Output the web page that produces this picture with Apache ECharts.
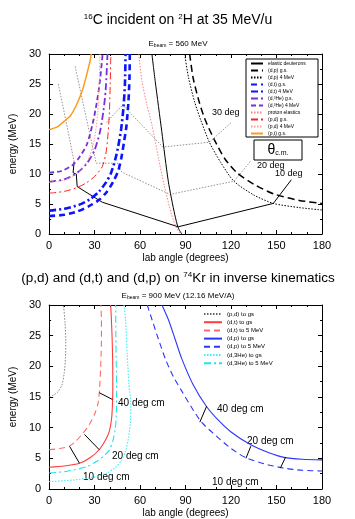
<!DOCTYPE html>
<html>
<head>
<meta charset="utf-8">
<script src="https://cdn.jsdelivr.net/npm/echarts@6/dist/echarts.min.js"></script>
<style>
html,body{margin:0;padding:0;background:#fff;}
#chart{width:355px;height:519px;}
</style>
</head>
<body>
<div id="chart"></div>
<script>
var FONT = 'Liberation Sans, Arial, sans-serif';

// ---------- top panel: 16C + 2H, 35 MeV/u ----------  [lab angle (deg), energy (MeV)]
var elasticDeut  = [[67.8,30],[70,25.4],[74.3,17.1],[78.6,8.8],[82.9,3.2],[85.2,1.0],[87.5,0]];
var dpGs         = [[92.7,30],[95,26],[99,22],[103,19],[109,15.7],[116,12.5],[124,10.2],[135,8.3],[148,6.7],[165,5.6],[180,5.1]];
var dp4          = [[89.4,30],[92,26],[96,22],[100,19],[105.7,15.3],[113,12],[121.9,8.8],[135,6.5],[147.9,5.1],[165,4.4],[180,4.0]];
var dtGs         = [[0,3.0],[10,3.2],[18,3.7],[26,4.6],[33,5.7],[38,7],[42,8.6],[45.5,10.5],[47.5,12.5],[49.5,15.5],[51,18],[52.3,22],[53,26],[53.2,30]];
var dt4          = [[0,3.9],[10,4.2],[20,4.9],[27,5.8],[33,7.1],[37.5,8.6],[40.7,10.1],[43.5,12.3],[45.5,14.5],[47.5,17.5],[49,21],[50,25],[50.4,30]];
var d3HeGs       = [[0,8.7],[10,9.1],[18,10.1],[25,11.8],[30,14],[33.5,17],[35.8,20.5],[37.3,24],[38.5,30]];
var d3He4        = [[0,10.2],[8,10.5],[15,11.4],[20,12.8],[25,15],[28.8,18.5],[31.5,22],[33.5,25.5],[35.3,30]];
var protonElastic= [[59.1,30],[61.3,25.4],[64.5,21.5],[67.8,18.2],[72,12.8],[76,8],[80.8,3.2],[84,1],[86.5,0]];
var pdGs         = [[0,6.8],[10,7.1],[18,7.7],[24.4,8.5],[30,9.6],[35,11.2],[37.5,13.5],[38.8,16.5],[39.7,20],[40.3,25],[40.7,30]];
var pd4          = [[0,8.6],[10,9.0],[17,9.9],[23,11.3],[27,13.2],[30,16],[32,20],[33,25],[33.5,30]];
var ptGs         = [[0,17.4],[5,17.8],[10,18.8],[14,19.7],[18,21.5],[22,24],[25,26.8],[27,28.8],[27.8,30]];

// constant theta c.m. lines (with the leader to their label)
var cm10      = [[159.8,9.05],[147.9,5.1],[85.1,1.2],[35,5.3],[18.5,7.9],[17.9,10.0],[15.8,10.2],[16.5,12.0]];
var cm10Upper = [[16.5,12.0],[11,19],[6,25]];
var cm20      = [[132.8,12.1],[121.9,8.8],[79.7,6.6],[48,10.3],[45,11.8],[31,11.8],[16.9,28.2]];
var cm30      = [[119.8,18.5],[105.7,15.3],[75,14.5],[48.5,21.5],[37.4,18.5]];

// ---------- bottom panel: 74Kr, 900 MeV ----------
var pdToGs    = [[0,15.0],[3,15.3],[6,15.9],[8.5,17],[10,19],[10.8,21.5],[11,24],[10.5,27],[9.5,30]];
var dtToGs    = [[0,3.55],[10,3.75],[20,4.2],[27,5.1],[33,6.4],[37,7.9],[39.6,9.3],[41.2,11.5],[41.8,14],[42,17],[41.9,21],[41.5,25],[41,28],[40.6,30]];
var dtTo5     = [[0,6.4],[7,6.6],[13.5,7.0],[18,7.9],[22.2,9.05],[26,10.3],[30,12.2],[32.3,14],[33.3,16.4],[34,20],[34.5,24],[34.5,27.6],[34.1,30]];
var dpToGs    = [[74.4,30],[78.7,27.6],[83,24.5],[87.4,21.3],[95,17],[103.7,13.5],[111.3,11.3],[120,9.3],[133,7.2],[145,5.9],[155,5.15],[167,4.85],[180,4.75]];
var dpTo5     = [[64.7,30],[68,27.5],[72,24.5],[77,21],[82,18.3],[87.4,16],[94,13.3],[100.5,10.9],[110,8.7],[120,6.6],[129.8,5.1],[142,4.1],[155,3.4],[167,3.05],[180,2.93]];
var d3HeToGs  = [[0,1.2],[15,1.45],[30.9,2.0],[38,2.6],[43.9,3.55],[47.5,4.6],[50.4,6.2],[52.5,8.5],[53.7,11.5],[53.8,14],[52.6,17.2],[51.5,22],[50.4,27.6],[49.4,30]];
var d3HeTo5   = [[0,2.6],[12,2.9],[24.3,3.6],[32,4.6],[37,5.6],[39.6,6.3],[42,7.8],[43.6,9.8],[44.3,12],[44.5,16],[44.3,20],[44,25],[43.9,30]];

var cmRed40  = [[33.1,15.7],[41.7,14.6]];
var cmRed20  = [[23.3,8.9],[33.1,6.4]];
var cmRed10  = [[13.5,6.95],[20,4.2]];
var cmBlue40 = [[103.9,13.5],[99.4,10.9]];
var cmBlue20 = [[133.1,7.0],[129.8,5.0]];
var cmBlue10 = [[156,5.2],[152.6,3.45]];

var angleMin = 0, angleMax = 180, angleStep = 30;
var energyMin = 0, energyMax = 30, energyStep = 5;

var chart = echarts.init(document.getElementById('chart'));

function xAx(grid, pos, labels) {
  return {
    type: 'value', gridIndex: grid, position: pos,
    min: angleMin, max: angleMax, interval: angleStep,
    axisLine: {show: true, onZero: false, lineStyle: {color: '#000', width: 1}},
    axisTick: {show: true, inside: true, length: 4, lineStyle: {color: '#000'}},
    minorTick: {show: true, splitNumber: 3, length: 2, lineStyle: {color: '#000'}},
    splitLine: {show: false},
    axisLabel: {show: labels, color: '#000', fontSize: 11, margin: 6, fontFamily: FONT},
    name: labels ? 'lab angle (degrees)' : '',
    nameLocation: 'middle', nameGap: 19,
    nameTextStyle: {color: '#000', fontSize: 10, fontFamily: FONT}
  };
}
function yAx(grid, pos, labels) {
  return {
    type: 'value', gridIndex: grid, position: pos,
    min: energyMin, max: energyMax, interval: energyStep,
    axisLine: {show: true, onZero: false, lineStyle: {color: '#000', width: 1}},
    axisTick: {show: true, inside: true, length: 4, lineStyle: {color: '#000'}},
    minorTick: {show: true, splitNumber: 2, length: 2, lineStyle: {color: '#000'}},
    splitLine: {show: false},
    axisLabel: {show: labels, color: '#000', fontSize: 11, margin: 8, fontFamily: FONT},
    name: labels ? 'energy (MeV)' : '',
    nameLocation: 'middle', nameGap: 18, nameRotate: 90,
    nameTextStyle: {color: '#000', fontSize: 10, fontFamily: FONT}
  };
}
function line(name, data, color, width, type, g, smooth) {
  return {
    name: name, type: 'line', xAxisIndex: g * 2, yAxisIndex: g * 2,
    data: data, symbol: 'none', smooth: smooth === undefined ? 0.25 : smooth, silent: true,
    lineStyle: {color: color, width: width, type: type},
    itemStyle: {color: color}
  };
}

var DASH = [6, 4], DASHDOT = [7, 3, 2, 3], DOT = [1.5, 1.5];

var option = {
  animation: false,
  backgroundColor: '#fff',
  grid: [
    {left: 46, top: 54, width: 276, height: 180},
    {left: 46, top: 305, width: 276, height: 191}
  ],
  xAxis: [xAx(0, 'bottom', true), xAx(0, 'top', false), xAx(1, 'bottom', true), xAx(1, 'top', false)],
  yAxis: [yAx(0, 'left', true), yAx(0, 'right', false), yAx(1, 'left', true), yAx(1, 'right', false)],
  legend: [{
    data: ['elastic deuterons', '(d,p) g.s.', '(d,p) 4 MeV', '(d,t) g.s.', '(d,t) 4 MeV', '(d,\u00b3He) g.s.', '(d,\u00b3He) 4 MeV', 'proton elastics', '(p,d) g.s.', '(p,d) 4 MeV', '(p,t) g.s.'],
    orient: 'vertical', left: 250, top: 61, padding: 0,
    itemWidth: 12, itemHeight: 5, itemGap: 2, selectedMode: false,
    itemStyle: {opacity: 0},
    textStyle: {fontSize: 5, lineHeight: 5, color: '#000', fontFamily: FONT}
  }, {
    data: ['(p,d) to gs', '(d,t) to gs', '(d,t) to 5 MeV', '(d,p) to gs', '(d,p) to 5 MeV', '(d,3He) to gs', '(d,3He) to 5 MeV'],
    orient: 'vertical', left: 203, top: 311, padding: 0,
    itemWidth: 18, itemHeight: 6, itemGap: 2.2, selectedMode: false,
    itemStyle: {opacity: 0},
    textStyle: {fontSize: 6, lineHeight: 6, color: '#000', fontFamily: FONT}
  }],
  graphic: [
    {type: 'text', x: 178, y: 20, style: {text: '{s|16}C incident on {s|2}H at 35 MeV/u', textAlign: 'center', textVerticalAlign: 'middle',
      font: '14px ' + FONT, fill: '#000', rich: {s: {fontSize: 8, verticalAlign: 'top', fill: '#000'}}}},
    {type: 'text', x: 178, y: 44, style: {text: 'E{b|beam} = 560 MeV', textAlign: 'center', textVerticalAlign: 'middle',
      font: '8px ' + FONT, fill: '#000', rich: {b: {fontSize: 5, verticalAlign: 'bottom', fill: '#000'}}}},
    {type: 'text', x: 178, y: 278, style: {text: '(p,d) and (d,t) and (d,p) on {s|74}Kr in inverse kinematics', textAlign: 'center', textVerticalAlign: 'middle',
      font: '13.5px ' + FONT, fill: '#000', rich: {s: {fontSize: 8, verticalAlign: 'top', fill: '#000'}}}},
    {type: 'text', x: 178, y: 296, style: {text: 'E{b|beam} = 900 MeV (12.16 MeV/A)', textAlign: 'center', textVerticalAlign: 'middle',
      font: '8px ' + FONT, fill: '#000', rich: {b: {fontSize: 5, verticalAlign: 'bottom', fill: '#000'}}}},
    {type: 'rect', shape: {x: 246, y: 59, width: 72, height: 78}, style: {fill: 'none', stroke: '#000', lineWidth: 1}},
    {type: 'rect', shape: {x: 254, y: 140, width: 48, height: 20}, style: {fill: '#fff', stroke: '#000', lineWidth: 1}},
    {type: 'text', x: 278, y: 150, style: {text: '\u03b8{c|c.m.}', textAlign: 'center', textVerticalAlign: 'middle',
      font: '14px ' + FONT, fill: '#000', rich: {c: {fontSize: 7, verticalAlign: 'bottom', fill: '#000'}}}},
    {type: 'text', x: 212, y: 113, style: {text: '30 deg', textVerticalAlign: 'middle', font: '9px ' + FONT, fill: '#000'}},
    {type: 'text', x: 257, y: 166, style: {text: '20 deg', textVerticalAlign: 'middle', font: '9px ' + FONT, fill: '#000'}},
    {type: 'text', x: 275, y: 174, style: {text: '10 deg', textVerticalAlign: 'middle', font: '9px ' + FONT, fill: '#000'}},
    {type: 'text', x: 118, y: 403, style: {text: '40 deg cm', textVerticalAlign: 'middle', font: '10px ' + FONT, fill: '#000'}},
    {type: 'text', x: 112, y: 456, style: {text: '20 deg cm', textVerticalAlign: 'middle', font: '10px ' + FONT, fill: '#000'}},
    {type: 'text', x: 83, y: 477, style: {text: '10 deg cm', textVerticalAlign: 'middle', font: '10px ' + FONT, fill: '#000'}},
    {type: 'text', x: 217, y: 409, style: {text: '40 deg cm', textVerticalAlign: 'middle', font: '10px ' + FONT, fill: '#000'}},
    {type: 'text', x: 247, y: 441, style: {text: '20 deg cm', textVerticalAlign: 'middle', font: '10px ' + FONT, fill: '#000'}},
    {type: 'text', x: 212, y: 482, style: {text: '10 deg cm', textVerticalAlign: 'middle', font: '10px ' + FONT, fill: '#000'}}
  ],
  series: [
    // cm lines first so curves sit on top
    line('cm10', cm10, '#000', 1, 'solid', 0, false),
    line('cm10u', cm10Upper, '#777', 0.8, DOT, 0, false),
    line('cm20', cm20, '#777', 0.8, DOT, 0, false),
    line('cm30', cm30, '#777', 0.8, DOT, 0, false),
    line('elastic deuterons', elasticDeut, '#000', 1, 'solid', 0),
    line('(d,p) g.s.', dpGs, '#000', 1.5, [7, 4], 0),
    line('(d,p) 4 MeV', dp4, '#000', 1, DOT, 0),
    line('(d,t) g.s.', dtGs, '#0a14ff', 2.6, [6, 4], 0),
    line('(d,t) 4 MeV', dt4, '#0a14ff', 2.6, DASHDOT, 0),
    line('(d,\u00b3He) g.s.', d3HeGs, '#7a2fd6', 1.8, DASHDOT, 0),
    line('(d,\u00b3He) 4 MeV', d3He4, '#7a2fd6', 1.8, [5, 3], 0),
    line('proton elastics', protonElastic, '#ff7f7f', 1, DOT, 0),
    line('(p,d) g.s.', pdGs, '#ff2020', 1, DASHDOT, 0),
    line('(p,d) 4 MeV', pd4, '#ff9c9c', 1, DOT, 0),
    line('(p,t) g.s.', ptGs, '#ff9a1f', 1.5, 'solid', 0),

    line('(p,d) to gs', pdToGs, '#666', 0.8, DOT, 1),
    line('(d,t) to gs', dtToGs, '#ff3b3b', 1.1, 'solid', 1),
    line('(d,t) to 5 MeV', dtTo5, '#ff6b6b', 1.1, DASH, 1),
    line('(d,p) to gs', dpToGs, '#2b35ff', 1.1, 'solid', 1),
    line('(d,p) to 5 MeV', dpTo5, '#2b35ff', 1.1, DASH, 1),
    line('(d,3He) to gs', d3HeToGs, '#3ff0f0', 1.1, DOT, 1),
    line('(d,3He) to 5 MeV', d3HeTo5, '#1ee6ee', 1.1, DASHDOT, 1),
    line('cmr40', cmRed40, '#000', 1, 'solid', 1, false),
    line('cmr20', cmRed20, '#000', 1, 'solid', 1, false),
    line('cmr10', cmRed10, '#000', 1, 'solid', 1, false),
    line('cmb40', cmBlue40, '#000', 1, 'solid', 1, false),
    line('cmb20', cmBlue20, '#000', 1, 'solid', 1, false),
    line('cmb10', cmBlue10, '#000', 1, 'solid', 1, false)
  ]
};
chart.setOption(option);
</script>
</body>
</html>
